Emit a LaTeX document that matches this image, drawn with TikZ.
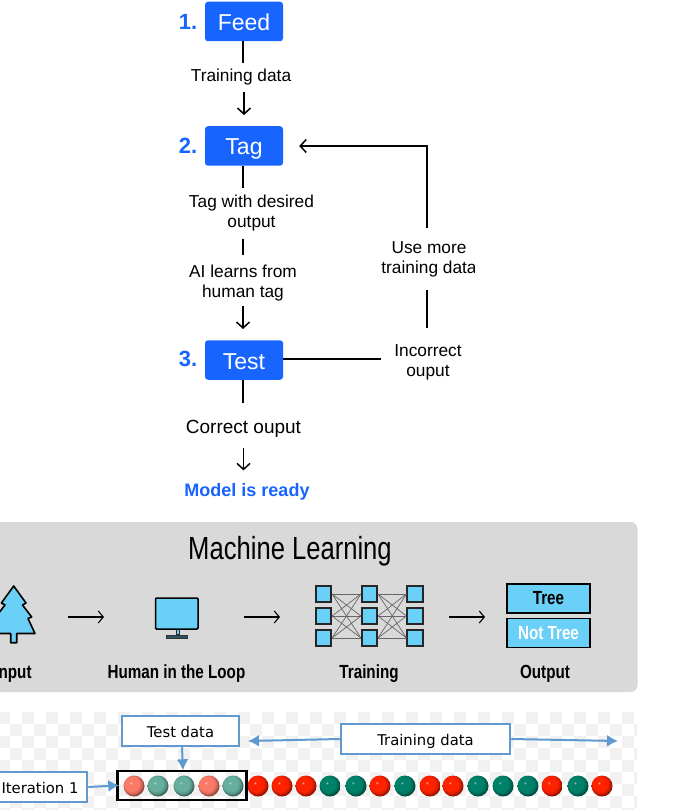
\documentclass[tikz,border=0pt]{standalone}
\usepackage{fontspec}
\setmainfont{Liberation Sans}
\newfontfamily\condfont[FakeStretch=0.8]{Liberation Sans}
\newfontfamily\dejafont{DejaVu Sans}
\usepackage{xcolor}
\usetikzlibrary{arrows.meta, positioning}
\definecolor{stepblue}{HTML}{1764FF}
\definecolor{panelgray}{HTML}{D9D9D9}
\definecolor{iconblue}{HTML}{6BD0F7}
\definecolor{noteblue}{HTML}{5F99CF}
\definecolor{checkgray}{HTML}{F1F1F1}
\definecolor{ballr}{HTML}{FF2200}
\definecolor{ballg}{HTML}{00826A}
\definecolor{ballfr}{HTML}{FA7A68}
\definecolor{ballfg}{HTML}{66AE9E}
% Glossy ball: small highlight, flat body, dark lower right rim
\newcommand{\declareball}[1]{%
    \pgfdeclareradialshading{#1}{\pgfpoint{-8bp}{8bp}}{%
        color(0bp)=(#1!30!white); color(3bp)=(#1); color(17bp)=(#1); color(22bp)=(#1!85!black); color(30bp)=(#1!40!black); color(50bp)=(#1!40!black)}}
\declareball{ballr}
\declareball{ballg}
\declareball{ballfr}
\declareball{ballfg}

\begin{document}
\begin{tikzpicture}[
    x=1pt, y=-1pt,
    stepbox/.style={fill=stepblue, rounded corners=3pt, minimum width=78pt, minimum height=39.5pt, inner sep=0pt, text=white, text height=18pt, text depth=0pt, font=\fontsize{23}{24}\selectfont},
    stepnum/.style={text=stepblue, inner sep=0pt, font=\fontsize{22}{24}\selectfont\bfseries},
    lbl/.style={align=center, inner sep=0pt, font=\fontsize{17.3}{20}\selectfont},
    flow/.style={line width=1.5pt},
    flowarrow/.style={line width=1.5pt, -{Straight Barb[length=6pt,width=13pt]}},
    mlarrow/.style={line width=1.1pt, -{Straight Barb[length=5pt,width=12pt]}},
    square/.style={draw=black!85, line width=1.6pt, fill=iconblue, minimum size=15.5pt, inner sep=0pt},
    wire/.style={gray!80!black, line width=0.7pt},
    caption/.style={inner sep=0pt, font=\condfont\fontsize{19}{20}\selectfont\bfseries},
    outbox/.style={draw=black, line width=1.7pt, fill=iconblue, minimum width=83pt, minimum height=29pt, inner sep=0pt, font=\condfont\fontsize{19}{20}\selectfont\bfseries},
    note/.style={draw=noteblue, line width=2.5pt, fill=white, inner sep=0pt, text height=13pt, text depth=0pt, font=\dejafont\fontsize{14.8}{16}\selectfont},
    notearrow/.style={draw=noteblue, line width=2pt, -{Latex[length=11pt,width=12pt]}},
    ball/.style={circle, minimum size=21pt, inner sep=0pt},
]
\useasboundingbox (0,0) rectangle (691,810);
\clip (0,0) rectangle (691,810);

% Flow chart steps
\node[stepbox] (feed) at (244,21.5) {Feed};
\node[stepbox] (tag) at (244,146) {Tag};
\node[stepbox] (test) at (244,360) {Test};
\node[stepnum] (num1) at (188,22) {1.};
\node[stepnum] (num2) at (188,146) {2.};
\node[stepnum] (num3) at (188,359) {3.};

% Flow chart labels
\node[lbl, minimum height=29pt] (lbltrain) at (241,77.5) {Training data};
\node[lbl, minimum height=51pt] (lbldesired) at (251.5,213.5) {Tag with desired\\output};
\node[lbl, minimum height=56pt] (lbllearn) at (243,283) {AI learns from\\human tag};
\node[lbl, minimum height=51pt, font=\fontsize{19}{20}\selectfont] (lblcorrect) at (243.5,428.5) {Correct ouput};
\node[lbl, text=stepblue, font=\fontsize{18}{20}\selectfont\bfseries] (lblready) at (247,492) {Model is ready};
\node[lbl, minimum height=67pt, minimum width=94pt] (lblwrong) at (428,362) {Incorrect\\ouput};
\begin{scope}
\clip (340,225) rectangle (474,292);
\node[lbl, minimum height=61pt] (lblmore) at (429,259) {Use more\\training data};
\end{scope}

% Flow chart connectors
\draw[flow] (feed.south) ++(-1,0) -- (lbltrain.north -| 243,0);
\draw[flowarrow, shorten >=11pt] (lbltrain.south -| tag.north) -- (tag.north);
\draw[flow] (tag.south) ++(-1,0) -- (lbldesired.north -| 243,0);
\draw[flow] (lbldesired.south -| 243,0) -- (lbllearn.north);
\draw[flowarrow, shorten >=11pt, shorten <=-5pt] (lbllearn.south) -- (test.north -| lbllearn.south);
\draw[flow] (test.south) ++(-1,0) -- (lblcorrect.north -| 243,0);
\draw[flowarrow, shorten >=13pt, shorten <=-6.5pt] (lblcorrect.south) -- (lblready.north -| lblcorrect.south);
\draw[flow] (test.east |- 0,359) -- (lblwrong.west |- 0,359);
\draw[flow] (lblwrong.north -| 427,0) -- (lblmore.south -| 427,0);
\draw[flowarrow, shorten >=16pt] (lblmore.north -| 427,0) -- (427,146) -- (tag.east);

% Machine learning panel
\fill[panelgray, rounded corners=7pt] (-20,522) rectangle (637.5,692);
\node[inner sep=0pt, font=\condfont\fontsize{32}{34}\selectfont] (title) at (290,551.5) {Machine Learning};

% Tree
\draw[line width=1.6pt, fill=iconblue, line join=round] (13.7,586) -- (26,603) -- (22.5,605) -- (31.7,617) -- (28,618.5) -- (35,633.5) -- (16.7,633.5) -- (16.7,642.7) -- (10.7,642.7) -- (10.7,633.5) -- (-7.6,633.5) -- (-0.6,618.5) -- (-4.3,617) -- (5,605) -- (1.4,603) -- cycle;

% Monitor
\fill[black!85] (175.5,628) rectangle (179.5,636);
\draw[line width=1.5pt, fill=iconblue, rounded corners=1pt] (155.5,598) rectangle (198,629);
\fill[iconblue] (176.5,629.5) rectangle (178.5,634);
\draw[line width=0.8pt, black!80, fill=iconblue!40!black] (166.5,635) rectangle (187.5,638);

% Training network
\foreach \row/\ypos in {a/594, b/616, c/638} {
    \node[square] (l\row) at (323.5,\ypos) {};
    \node[square] (m\row) at (369.5,\ypos) {};
    \node[square] (r\row) at (415,\ypos) {};
}
\foreach \from in {a,b,c} {
    \foreach \to in {a,b,c} {
        \draw[wire] (l\from.east) -- (m\to.west);
        \draw[wire] (m\from.east) -- (r\to.west);
    }
}

% Output boxes
\node[outbox] (tree) at (548.5,598.5) {Tree};
\node[outbox, text=white] (nottree) at (548.5,633) {Not Tree};

% Panel arrows
\coordinate (a1) at (68,617);
\coordinate (a2) at (104,617);
\coordinate (a3) at (244,617);
\coordinate (a4) at (280,617);
\coordinate (a5) at (449,617);
\coordinate (a6) at (485,617);
\draw[mlarrow] (a1) -- (a2);
\draw[mlarrow] (a3) -- (a4);
\draw[mlarrow] (a5) -- (a6);

% Panel captions
\node[caption] (capinput) at (13,674) {Input};
\node[caption] (caphuman) at (176.5,674) {Human in the Loop};
\node[caption] (captrain) at (369,674) {Training};
\node[caption] (capout) at (545,674) {Output};

% Checker background
\begin{scope}
\clip (0,712) rectangle (637,810);
\foreach \i in {-1,...,26} {
    \foreach \j in {0,...,4} {
        \fill[checkgray] (22+24*\i,712+24*\j) rectangle ++(12,12);
        \fill[checkgray] (10+24*\i,724+24*\j) rectangle ++(12,12);
    }
}
\end{scope}

% Balls of the first fold are faded
\foreach \xpos/\col in {134/ballfr, 158/ballfg, 184/ballfg, 209/ballfr, 233/ballfg, 258/ballr, 282/ballr, 306/ballr, 330/ballg, 356/ballg, 380/ballr, 405/ballg, 430/ballr, 453/ballr, 478/ballg, 503/ballg, 528/ballg, 552/ballr, 578/ballg, 602/ballr} {
    \node[ball, shading=\col] (b\xpos) at (\xpos,786) {};
}

% Fold notes
\node[draw=black, line width=2.4pt, minimum width=129pt, minimum height=29pt, inner sep=0pt] (fold) at (182,785.5) {};
\node[note, minimum width=117pt, minimum height=30pt] (testdata) at (180.5,731) {Test data};
\node[note, minimum width=169pt, minimum height=30pt] (traindata) at (425.5,739) {Training data};
\node[note, minimum width=94pt, minimum height=30pt] (iter) at (40,787) {Iteration 1};
\coordinate (trainleft) at (248,741);
\coordinate (trainright) at (618,741);
\draw[notearrow, shorten >=-0.5pt] (testdata.south -| 182,0) -- (fold.north -| 183,0);
\draw[notearrow] (traindata.west) -- (trainleft);
\draw[notearrow] (traindata.east) -- (trainright);
\draw[notearrow, shorten >=-3pt] (iter.east) -- (fold.west);
\end{tikzpicture}
\end{document}
